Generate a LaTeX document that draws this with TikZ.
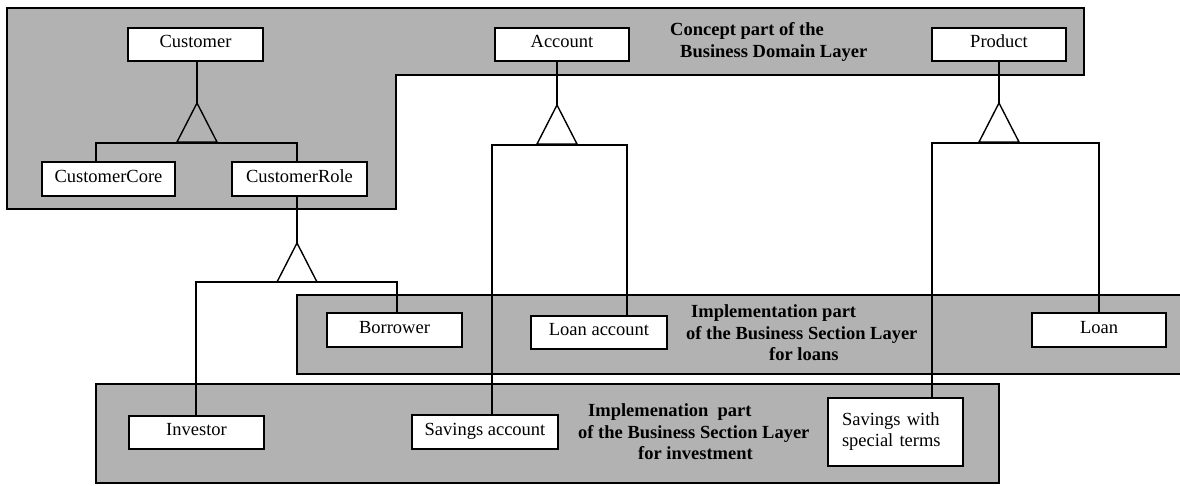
\documentclass[tikz,border=0pt]{standalone}
\usepackage{fontspec}
\setmainfont{Liberation Serif}
\begin{document}
\begin{tikzpicture}[x=1pt,y=-1pt,
  region/.style={fill=black!30, draw=black, line width=1.6pt},
  clsbase/.style={draw, fill=white, line width=1.4pt, inner sep=0pt, font=\fontsize{18.5}{21}\selectfont},
  cls/.style={clsbase, text height=12pt, text depth=5.6pt},
  title/.style={inner sep=0pt, anchor=north west, align=left, font=\fontsize{18.5}{21.5}\selectfont\bfseries},
  link/.style={line width=1.3pt},
  gen/.style={line width=1.4pt, line join=miter}]
\useasboundingbox (0,0) rectangle (1180,485);

% layers
\path[region] (7,8) -- (1084,8) -- (1084,75) -- (396,75) -- (396,209) -- (7,209) -- cycle;
\path[region] (297,295) rectangle (1182,374);
\path[region] (96,384) rectangle (999,483);

% titles
\node[title] (tconcept) at (670,22.5) {Concept part of the\\\hspace*{10pt}Business Domain Layer};
\node[title] (tloans) at (686,304.5) {\hspace*{5pt}Implementation part\\of the Business Section Layer\\\hspace*{83pt}for loans};
\node[title] (tinvest) at (578,403.5) {\hspace*{10pt}Implemenation~ part\\of the Business Section Layer\\\hspace*{60pt}for investment};

% classes
\node[cls, minimum width=135, minimum height=33] (Customer) at (195.5,44.5) {Customer};
\node[cls, minimum width=134, minimum height=33] (Account) at (562,44.5) {Account};
\node[cls, minimum width=134, minimum height=33] (Product) at (999,44.5) {Product};
\node[cls, minimum width=133, minimum height=34] (CustomerCore) at (108.5,179) {CustomerCore};
\node[cls, minimum width=135, minimum height=34] (CustomerRole) at (299.5,179) {CustomerRole};
\node[cls, minimum width=135, minimum height=34] (Borrower) at (394.5,330) {Borrower};
\node[cls, minimum width=136, minimum height=33] (LoanAccount) at (599,332.5) {Loan account};
\node[cls, minimum width=134, minimum height=34] (Loan) at (1099,330) {Loan};
\node[cls, minimum width=135, minimum height=33] (Investor) at (196.5,432.5) {Investor};
\node[cls, minimum width=146, minimum height=34] (SavingsAccount) at (485,432) {Savings account};
\node[clsbase, minimum width=135, minimum height=68, text width=107pt, align=left] (SavingsSpecial) at (895.5,432) {Savings with\\special terms};

% generalisation: Customer
\coordinate (a1) at (197,103);
\coordinate (b1l) at (96,143);
\coordinate (b1r) at (297,143);
\draw[link] (Customer.south -| a1) -- (a1);
\draw[link] (CustomerCore.north -| b1l) |- (b1r) -- (CustomerRole.north -| b1r);
\draw[gen] (a1) -- ++(-20,39) -- ++(40,0) -- cycle;

% generalisation: Account
\coordinate (a2) at (557,105);
\coordinate (b2l) at (492,145);
\coordinate (b2r) at (627,145);
\draw[link] (Account.south -| a2) -- (a2);
\draw[link] (SavingsAccount.north -| b2l) |- (b2r) -- (LoanAccount.north -| b2r);
\draw[gen] (a2) -- ++(-20,39) -- ++(40,0) -- cycle;

% generalisation: Product
\coordinate (a3) at (999,103);
\coordinate (b3l) at (932,143);
\coordinate (b3r) at (1099,143);
\draw[link] (Product.south -| a3) -- (a3);
\draw[link] (SavingsSpecial.north -| b3l) |- (b3r) -- (Loan.north -| b3r);
\draw[gen] (a3) -- ++(-20,39) -- ++(40,0) -- cycle;

% generalisation: CustomerRole
\coordinate (a4) at (297,243);
\coordinate (b4l) at (196,282);
\coordinate (b4r) at (397,282);
\draw[link] (CustomerRole.south -| a4) -- (a4);
\draw[link] (Investor.north -| b4l) |- (b4r) -- (Borrower.north -| b4r);
\draw[gen] (a4) -- ++(-20,39) -- ++(40,0) -- cycle;
\end{tikzpicture}
\end{document}
